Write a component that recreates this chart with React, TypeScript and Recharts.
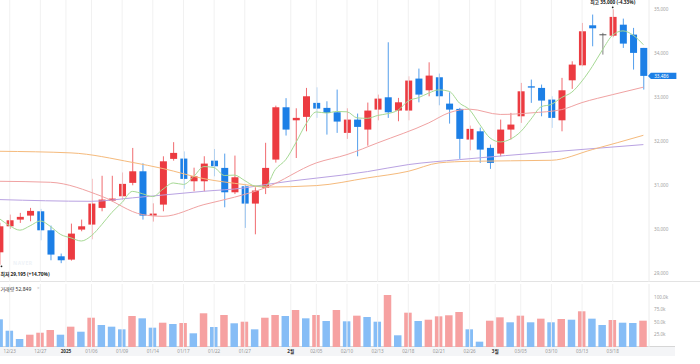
import React from "react";
import {
  ComposedChart,
  Bar,
  Line,
  XAxis,
  YAxis,
  Cell,
  ReferenceLine,
  ReferenceDot,
} from "recharts";

const dates = [
  "12/20", "12/23", "12/24", "12/26", "12/27", "12/30", "12/31", "01/02", "01/03", "01/06",
  "01/07", "01/08", "01/09", "01/10", "01/13", "01/14", "01/15", "01/16", "01/17", "01/20",
  "01/21", "01/22", "01/23", "01/24", "01/27", "01/28", "01/29", "01/30", "01/31", "02/03",
  "02/04", "02/05", "02/06", "02/07", "02/10", "02/11", "02/12", "02/13", "02/14", "02/17",
  "02/18", "02/19", "02/20", "02/21", "02/24", "02/25", "02/26", "02/27", "02/28", "03/03",
  "03/04", "03/05", "03/06", "03/07", "03/10", "03/11", "03/12", "03/13", "03/14", "03/17",
  "03/18", "03/19", "03/20", "03/21",
];

const opens = [
  29477, 30068, 30220, 30311, 30409, 29977, 29386, 29311, 29993, 30107,
  30486, 30652, 30750, 31055, 31318, 30311, 30561, 31600, 31607, 31091,
  31091, 31560, 31395, 30841, 30977, 30584, 30941, 31584, 32773, 32477,
  32555, 32873, 32759, 32659, 32191, 32493, 32266, 32720, 33000, 32698,
  32698, 33425, 33159, 33455, 32856, 32736, 32039, 32227, 31850, 31720,
  32266, 32568, 33250, 33213, 32948, 32477, 33386, 33727, 34636, 34432,
  34400, 34650, 34425, 34122,
];
const highs = [
  30150, 30334, 30373, 30486, 30464, 30084, 29448, 30129, 30220, 31148,
  31216, 31216, 31291, 31849, 31500, 30590, 31659, 31980, 31770, 31400,
  31660, 31825, 31720, 31675, 31016, 30955, 31966, 32810, 32980, 32750,
  33213, 33227, 32909, 33175, 32750, 32630, 32880, 33061, 34250, 32986,
  33477, 33652, 33795, 33539, 33114, 32759, 32357, 32311, 31925, 32493,
  32645, 33327, 33402, 33289, 33023, 33441, 33818, 34690, 34880, 34464,
  35000, 34788, 34577, 34122,
];
const lows = [
  29195, 30009, 30145, 30182, 29750, 29296, 29230, 29288, 29955, 29773,
  30409, 30630, 30675, 31000, 30220, 30175, 30409, 31560, 30920, 30864,
  30864, 31205, 30500, 30800, 30032, 29886, 30800, 31515, 32130, 31620,
  32227, 32532, 32152, 32191, 32055, 31659, 31900, 32477, 32532, 32455,
  32477, 32886, 33023, 32818, 32402, 31600, 31795, 31509, 31373, 31659,
  32039, 32418, 32873, 32568, 32305, 32227, 33191, 33705, 34159, 33970,
  34364, 34122, 33630, 33175,
];
const closes = [
  30068, 30205, 30282, 30418, 29977, 29425, 29296, 29902, 30068, 30584,
  30675, 30698, 31032, 31318, 30311, 30357, 31545, 31736, 31145, 31205,
  31493, 31432, 30841, 31182, 30584, 30880, 31395, 32773, 32266, 32532,
  33023, 32743, 32645, 32448, 32493, 32327, 32698, 32970, 32659, 32886,
  33380, 33061, 33493, 33023, 32720, 32055, 32282, 31811, 31509, 32266,
  32380, 33136, 33220, 32925, 32532, 33159, 33743, 34500, 34568, 34432,
  34827, 34220, 34009, 33486,
];
const volumes = [
  55600, 32700, 16100, 24700, 28700, 34100, 24700, 40800, 30700, 58800,
  44200, 40800, 35500, 62200, 57600, 38800, 48800, 46200, 48200, 27500,
  67700, 40200, 64300, 47600, 50800, 35500, 58800, 64300, 62200, 74300,
  57600, 64300, 52200, 74300, 51600, 62900, 60200, 50800, 104400, 23500,
  68900, 52200, 54800, 61600, 63700, 70300, 35500, 10700, 52800, 59600,
  49600, 62900, 49600, 56900, 49600, 56200, 54800, 71700, 56900, 44200,
  54200, 48800, 48200, 52849,
];

// moving averages
const ma5 = [
  30240, 30080, 29980, 30080, 30190, 30061, 29880, 29804, 29734, 29855,
  30105, 30385, 30611, 30861, 30807, 30743, 30913, 31053, 31019, 31198,
  31425, 31402, 31223, 31231, 31106, 30984, 30976, 31363, 31580, 31969,
  32398, 32667, 32642, 32678, 32670, 32531, 32522, 32587, 32629, 32708,
  32919, 32991, 33096, 33169, 33135, 32870, 32715, 32378, 32075, 31985,
  32050, 32220, 32502, 32785, 32839, 32994, 33116, 33372, 33700, 34080,
  34414, 34509, 34411, 34195,
];
const ma20Idx = [0, 5, 10, 14, 16, 20, 23, 26, 31, 34, 37, 42, 44, 46, 49, 52, 55, 57, 60, 63];
const ma20Val = [31091, 31068, 30750, 30334, 30295, 30561, 30730, 30941, 31509, 31698, 31964, 32418, 32650, 32730, 32610, 32645, 32720, 32880, 33061, 33230];
const ma60Idx = [0, 7, 13, 16, 20, 24, 26, 31, 36, 40, 43, 46, 54, 58, 63];
const ma60Val = [31773, 31736, 31520, 31380, 31150, 31016, 30960, 30993, 31168, 31318, 31509, 31545, 31568, 31811, 32136];
const ma120Idx = [0, 9, 13, 20, 24, 26, 36, 40, 45, 54, 63];
const ma120Val = [30675, 30636, 30714, 30864, 30941, 31016, 31311, 31470, 31584, 31759, 31925];

const tickPos = [1, 4, 6.5, 9, 12, 15, 18, 21, 24, 28.5, 31, 34, 37, 40, 43, 46, 48.5, 51, 54, 57, 60];
const tickText = [
  "12/23", "12/27", "2025", "01/06", "01/09", "01/14", "01/17", "01/22", "01/27", "2월",
  "02/05", "02/10", "02/13", "02/18", "02/21", "02/26", "3월", "03/05", "03/10", "03/13", "03/18",
];
const priceTicks = [29000, 30000, 31000, 32000, 33000, 34000, 35000];
const volTicks = [25000, 50000, 75000, 100000];

const RED = "#ec3b41";
const BLUE = "#1c7fe6";
const VRED = "#f6a1a1";
const VBLUE = "#86bdf6";
const FONT = "'Noto Sans', 'Noto Sans CJK KR', sans-serif";

const pick = (idx: number[], val: number[], i: number) => {
  const k = idx.indexOf(i);
  return k >= 0 ? val[k] : null;
};

const rows = dates.map((d, i) => ({
  i,
  date: d,
  o: opens[i],
  h: highs[i],
  l: lows[i],
  c: closes[i],
  range: [lows[i], highs[i]],
  v: volumes[i],
  ma5: ma5[i],
  ma20: pick(ma20Idx, ma20Val, i),
  ma60: pick(ma60Idx, ma60Val, i),
  ma120: pick(ma120Idx, ma120Val, i),
}));

const xDomain: [number, number] = [0.05, 63.55];

const Candle = (props: any) => {
  const { x, y, width, height, payload } = props;
  const { o, h, l, c } = payload;
  const cx = x + width / 2;
  const k = h === l ? 0 : height / (h - l);
  const yo = y + (h - o) * k;
  const yc = y + (h - c) * k;
  const color = c > o ? RED : c < o ? BLUE : "#555";
  const top = Math.min(yo, yc);
  const bh = Math.max(1, Math.abs(yo - yc));
  return (
    <g>
      <line x1={cx} x2={cx} y1={y} y2={y + height} stroke={color} strokeWidth={1} opacity={0.75} />
      <rect x={x} y={top} width={width} height={bh} fill={color} />
    </g>
  );
};

const DateTick = (props: any) => {
  const { x, y, payload } = props;
  const label = tickText[tickPos.indexOf(payload.value)] || "";
  const bold = label === "2025" || label.endsWith("월");
  return (
    <text
      x={x}
      y={y}
      dy={3.3}
      textAnchor="middle"
      fontSize={4.6}
      fontFamily={FONT}
      fill={bold ? "#333" : "#999"}
      fontWeight={bold ? 700 : 400}
    >
      {label}
    </text>
  );
};

export default function App() {
  return (
    <div
      style={{
        position: "absolute",
        left: 0,
        top: 0,
        width: 700,
        height: 364,
        overflow: "hidden",
        background: "#fff",
        fontFamily: FONT,
      }}
    >
      <div style={{ position: "absolute", left: 0, top: 281, width: 700, height: 1, background: "#e3e3e3" }} />
      <div
        style={{
          position: "absolute",
          left: 0,
          top: 346,
          width: 675,
          height: 10,
          background: "#f4f5f7",
          borderTop: "1px solid #d6d6d6",
          boxSizing: "border-box",
        }}
      />

      <div style={{ position: "absolute", left: 0, top: 0 }}>
        <ComposedChart width={700} height={282} data={rows} margin={{ top: 0, right: 0, bottom: 0, left: 0 }}>
          <XAxis dataKey="i" type="number" domain={xDomain} allowDataOverflow hide />
          <YAxis
            orientation="right"
            width={51}
            domain={[28802, 35211]}
            allowDataOverflow
            ticks={priceTicks}
            tickFormatter={(v: number) => v.toLocaleString("en-US")}
            tick={{ fontSize: 4.6, fill: "#a0a0a0", fontFamily: FONT }}
            tickLine={false}
            tickSize={3}
            tickMargin={2}
            axisLine={{ stroke: "#ececec" }}
          />
          {tickPos.map((t) => (
            <ReferenceLine key={t} x={t} stroke="#f1f1f1" strokeWidth={1} />
          ))}
          <Bar dataKey="range" barSize={7} shape={<Candle />} isAnimationActive={false} />
          <Line type="monotone" dataKey="ma120" stroke="#b9a2e2" strokeWidth={1} dot={false} connectNulls isAnimationActive={false} />
          <Line type="monotone" dataKey="ma60" stroke="#f5ba7c" strokeWidth={1} dot={false} connectNulls isAnimationActive={false} />
          <Line type="monotone" dataKey="ma20" stroke="#f0a2a2" strokeWidth={1} dot={false} connectNulls isAnimationActive={false} />
          <Line type="monotone" dataKey="ma5" stroke="#a6d994" strokeWidth={1} dot={false} isAnimationActive={false} />
          <ReferenceDot
            x={60}
            y={35000}
            ifOverflow="visible"
            shape={(p: any) => (
              <g>
                <circle cx={p.cx} cy={p.cy - 2} r={0.9} fill="#222" />
                <text x={p.cx} y={p.cy - 5} textAnchor="middle" fontSize={4.8} fontWeight={700} fill="#222" fontFamily={FONT}>
                  최고 35,000 (-4.33%)
                </text>
              </g>
            )}
          />
          <ReferenceDot
            x={0}
            y={29195}
            ifOverflow="visible"
            shape={(p: any) => (
              <g>
                <circle cx={p.cx + 2} cy={p.cy + 1.6} r={0.9} fill="#222" />
                <text x={p.cx + 1} y={p.cy + 11} textAnchor="start" fontSize={4.8} fontWeight={700} fill="#222" fontFamily={FONT}>
                  최저 29,195 (+14.70%)
                </text>
              </g>
            )}
          />
          <ReferenceDot
            x={63}
            y={33486}
            ifOverflow="visible"
            shape={(p: any) => (
              <g>
                <path
                  d={`M${p.cx + 4.6},${p.cy} L${p.cx + 7.5},${p.cy - 3.2} L${p.cx + 33},${p.cy - 3.2} L${p.cx + 33},${p.cy + 3.2} L${p.cx + 7.5},${p.cy + 3.2} Z`}
                  fill={BLUE}
                />
                <text x={p.cx + 10.8} y={p.cy + 1.6} fontSize={4.6} fill="#fff" fontFamily={FONT}>
                  33,486
                </text>
              </g>
            )}
          />
        </ComposedChart>
      </div>

      <div style={{ position: "absolute", left: 0, top: 282 }}>
        <ComposedChart width={700} height={82} data={rows} margin={{ top: 2, right: 0, bottom: 0, left: 0 }}>
          <XAxis
            dataKey="i"
            type="number"
            domain={xDomain}
            allowDataOverflow
            ticks={tickPos}
            interval={0}
            height={17}
            tick={<DateTick />}
            tickLine={false}
            tickSize={1}
            tickMargin={1.5}
            axisLine={false}
          />
          <YAxis
            orientation="right"
            width={51}
            domain={[0, 126500]}
            allowDataOverflow
            ticks={volTicks}
            tickFormatter={(v: number) => (v / 1000).toFixed(1) + "k"}
            tick={{ fontSize: 4.6, fill: "#a0a0a0", fontFamily: FONT }}
            tickLine={false}
            tickSize={3}
            tickMargin={2}
            axisLine={{ stroke: "#ececec" }}
          />
          {tickPos.map((t) => (
            <ReferenceLine key={t} x={t} stroke="#f1f1f1" strokeWidth={1} />
          ))}
          <Bar dataKey="v" barSize={7.5} isAnimationActive={false}>
            {rows.map((r, i) => (
              <Cell key={i} fill={i > 0 && volumes[i] > volumes[i - 1] ? VRED : VBLUE} />
            ))}
          </Bar>
        </ComposedChart>
      </div>

      <svg width={700} height={364} style={{ position: "absolute", left: 0, top: 0, pointerEvents: "none" }}>
        <text x={13} y={265} fontSize={5} fontWeight={700} fill="#eef2f7" letterSpacing={0.6} fontFamily={FONT}>
          NAVER
        </text>
        <text x={0.5} y={290.5} fontSize={5} fill="#333" fontFamily={FONT}>
          거래량 52,849
        </text>
        <text x={37} y={290.3} fontSize={4.5} fill="#c4c4c4" fontFamily={FONT}>
          ×
        </text>
      </svg>
    </div>
  );
}
